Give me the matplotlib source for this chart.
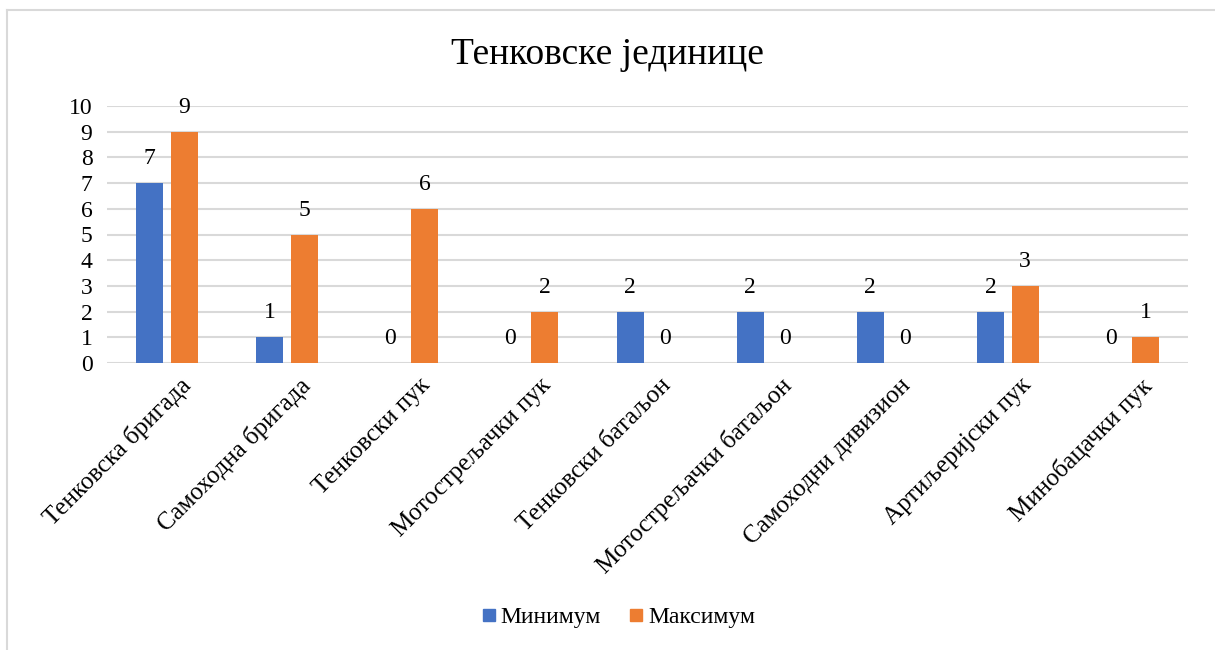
import matplotlib.pyplot as plt
import numpy as np
import matplotlib as mpl
from matplotlib.lines import Line2D

mpl.rcParams.update({
    'font.family': ['Liberation Serif', 'DejaVu Serif'],
    'font.size': 17,
})

categories = ['Тенковска бригада', 'Самоходна бригада', 'Тенковски пук',
              'Мотострељачки пук', 'Тенковски батаљон', 'Мотострељачки батаљон',
              'Самоходни дивизион', 'Артиљеријски пук', 'Минобацачки пук']
minimum = [7, 1, 0, 0, 2, 2, 2, 2, 0]
maximum = [9, 5, 6, 2, 0, 0, 0, 3, 1]
yticks = list(range(0, 11))

blue = '#4472C4'
orange = '#ED7D31'
W, H = 1215, 650

fig = plt.figure(figsize=(W / 100, H / 100), dpi=100)
ax = fig.add_axes([107 / W, 1 - 363 / H, (1188 - 107) / W, (363 - 106) / H])

x = np.arange(len(categories))
bw = 0.225
off = 0.145
ax.bar(x - off, minimum, bw, color=blue, zorder=3)
ax.bar(x + off, maximum, bw, color=orange, zorder=3)

for xi, v in zip(x, minimum):
    ax.text(xi - off, v + 0.95, str(v), ha='center', va='center', fontsize=17, color='#000000')
for xi, v in zip(x, maximum):
    ax.text(xi + off, v + 0.95, str(v), ha='center', va='center', fontsize=17, color='#000000')

ax.set_xlim(-0.5, len(categories) - 0.5)
ax.set_ylim(0, 10)
ax.set_yticks(yticks)
ax.set_yticklabels([str(t) for t in yticks], fontsize=17)
ax.yaxis.grid(True, color='#D9D9D9', linewidth=1.5, zorder=0)
ax.set_axisbelow(True)
for s in ax.spines.values():
    s.set_visible(False)
ax.tick_params(axis='both', length=0)
ax.tick_params(axis='y', pad=10.5)
ax.set_xticks(x + 0.1)
ax.set_xticklabels(categories, rotation=45, ha='right', rotation_mode='anchor', fontsize=18)
ax.tick_params(axis='x', pad=8)

fig.text(0.5, 1 - 55 / H, 'Тенковске јединице', ha='center', va='center', fontsize=27)

handles = [Line2D([], [], marker='s', linestyle='none', markersize=8, color=blue),
           Line2D([], [], marker='s', linestyle='none', markersize=8, color=orange)]
fig.legend(handles, ['Минимум', 'Максимум'], loc='center', bbox_to_anchor=(0.507, 1 - 617 / H),
           ncol=2, frameon=False, fontsize=17, handletextpad=0.0, columnspacing=1.0,
           handlelength=1.0)

# chart border (left and top only visible)
fig.add_artist(Line2D([7 / W, 7 / W], [0, 1 - 10 / H], color='#D9D9D9', linewidth=1.5,
                      transform=fig.transFigure))
fig.add_artist(Line2D([7 / W, 1], [1 - 10 / H, 1 - 10 / H], color='#D9D9D9', linewidth=1.5,
                      transform=fig.transFigure))

plt.savefig('out.png', dpi=100)
